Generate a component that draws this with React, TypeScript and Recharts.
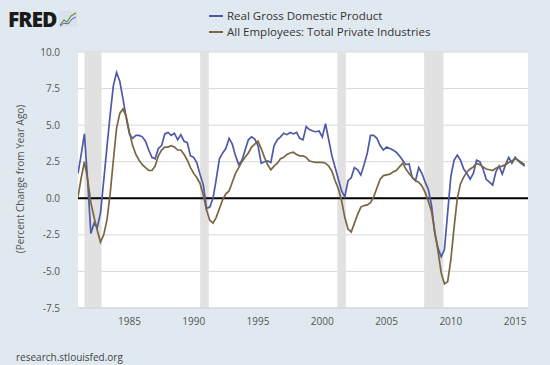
import React from 'react';
import {
  LineChart,
  Line,
  XAxis,
  YAxis,
  CartesianGrid,
  ReferenceArea,
  ReferenceLine,
} from 'recharts';

// quarterly, percent change from year ago, starting 1981 Q1
const startYear = 1981;

const gdp = [
  1.7, 3.0, 4.4, 1.2,
  -2.4, -1.7, -2.0, -1.0,
  1.2, 3.5, 5.7, 7.7,
  8.6, 8.0, 6.8, 5.5,
  4.4, 4.1, 4.3, 4.3,
  4.2, 3.9, 3.3, 2.8,
  2.7, 3.4, 3.6, 4.4,
  4.5, 4.3, 4.45, 4.0,
  4.35, 3.9, 3.8, 2.9,
  2.8, 2.4, 1.6, 0.9,
  -0.7, -0.6, 0.0, 1.3,
  2.7, 3.1, 3.4, 4.1,
  3.7, 2.9, 2.3, 2.6,
  3.3, 4.0, 4.2, 4.05,
  3.6, 2.4, 2.5, 2.55,
  2.45, 3.6, 4.0, 4.2,
  4.45, 4.35, 4.5, 4.4,
  4.5, 4.1, 4.0, 4.9,
  4.7, 4.6, 4.55, 4.6,
  4.2, 5.1, 4.0, 2.9,
  2.1, 1.3, 0.5, 0.1,
  1.2, 1.4, 2.1, 1.95,
  1.6, 2.3, 3.1, 4.3,
  4.3, 4.1, 3.6, 3.3,
  3.5, 3.4, 3.3, 3.15,
  2.9, 2.6, 2.3, 2.35,
  1.4, 1.2, 2.1, 1.7,
  1.1, 0.6, -0.5, -2.4,
  -3.4, -4.0, -3.5, -1.0,
  1.5, 2.6, 2.95, 2.6,
  2.0, 1.7, 1.3, 1.7,
  2.6, 2.5, 2.0, 1.3,
  1.1, 0.9, 1.8, 2.2,
  1.65, 2.3, 2.8, 2.4,
  2.8, 2.55, 2.35, 2.2,
];

const employment = [
  0.1, 1.4, 2.5, 1.3,
  -0.3, -1.3, -2.2, -3.0,
  -2.5, -1.5, 0.3, 2.6,
  4.8, 5.8, 6.1, 5.6,
  4.5, 3.6, 3.0, 2.6,
  2.3, 2.1, 1.9, 1.9,
  2.2, 2.9, 3.3, 3.5,
  3.5, 3.6, 3.5, 3.3,
  3.3, 3.0, 2.6, 2.1,
  1.7, 1.4, 1.0, 0.2,
  -0.8, -1.5, -1.7, -1.3,
  -0.7, -0.1, 0.3, 0.5,
  1.1, 1.7, 2.1, 2.5,
  2.8, 3.1, 3.5, 3.7,
  3.9, 3.4, 2.8, 2.3,
  1.95, 2.2, 2.4, 2.7,
  2.8, 3.0, 3.1, 3.15,
  3.0, 2.9, 2.9, 2.8,
  2.55, 2.5, 2.45, 2.45,
  2.45, 2.4, 2.2, 1.85,
  1.2, 0.65, -0.15, -1.3,
  -2.1, -2.3, -1.7, -1.1,
  -0.6, -0.5, -0.45, -0.3,
  0.1, 0.7, 1.3, 1.55,
  1.6, 1.65, 1.8, 1.9,
  2.15, 2.4, 2.0, 1.7,
  1.45, 1.2, 1.1, 0.85,
  0.4, -0.2, -0.9, -2.3,
  -3.6, -5.1, -5.85, -5.7,
  -4.2, -2.0, 0.0, 1.0,
  1.45, 1.8, 2.0, 2.15,
  2.4, 2.3, 2.15, 2.0,
  1.95, 1.9, 2.05, 2.15,
  2.2, 2.3, 2.45, 2.55,
  2.7, 2.6, 2.45, 2.3,
];

// NBER recessions (peak month -> trough month, as decimal years)
const recessions = [
  [1981.5, 1982.83],
  [1990.5, 1991.17],
  [2001.17, 2001.83],
  [2007.92, 2009.42],
];

const xTicks = [1985, 1990, 1995, 2000, 2005, 2010, 2015];
const yTicks = [-7.5, -5, -2.5, 0, 2.5, 5, 7.5, 10];

const seriesNames = ['Real Gross Domestic Product', 'All Employees: Total Private Industries'];
const colors = ['#4e5aa7', '#7a6542'];

const data = gdp.map((v, i) => ({
  t: startYear + i / 4,
  gdp: v,
  emp: employment[i],
}));

const font = '"Open Sans", "DejaVu Sans", sans-serif';

const FredLogo = () => (
  <div style={{ position: 'absolute', left: 8, top: 5, display: 'flex', alignItems: 'center' }}>
    <span style={{ fontFamily: font, fontWeight: 800, fontSize: 21, color: '#1a1a1a', letterSpacing: -1 }}>
      FRED
    </span>
    <svg width={18} height={16} style={{ marginLeft: 3 }}>
      <rect x={0} y={0} width={18} height={16} fill="#d7e2ea" />
      <polyline points="1,14 5,9 8,11 12,5 17,2" fill="none" stroke="#6d8f3a" strokeWidth={1.2} />
      <polyline points="1,15 5,12 9,13 13,8 17,6" fill="none" stroke="#4e5aa7" strokeWidth={1} />
    </svg>
  </div>
);

const App = () => {
  return (
    <div
      style={{
        position: 'absolute',
        left: 0,
        top: 0,
        width: 550,
        height: 365,
        background: '#e1e9f0',
        fontFamily: font,
        overflow: 'hidden',
      }}
    >
      <FredLogo />

      {/* legend */}
      <div style={{ position: 'absolute', left: 209, top: 8, fontSize: 11.5, color: '#333', lineHeight: '16px' }}>
        {seriesNames.map((name, i) => (
          <div key={name} style={{ display: 'flex', alignItems: 'center', height: 16 }}>
            <span style={{ display: 'inline-block', width: 14, height: 2, background: colors[i], marginRight: 4 }} />
            {name}
          </div>
        ))}
      </div>

      {/* y-axis title */}
      <div
        style={{
          position: 'absolute',
          left: 20,
          top: 179,
          transform: 'translate(-50%, -50%) rotate(-90deg)',
          whiteSpace: 'nowrap',
          fontSize: 10,
          color: '#555',
        }}
      >
        (Percent Change from Year Ago)
      </div>

      <div style={{ position: 'absolute', left: 16, top: 350, fontSize: 10, color: '#444' }}>
        research.stlouisfed.org
      </div>

      <div style={{ position: 'absolute', left: 0, top: 0 }}>
        <LineChart width={550} height={365} data={data} margin={{ top: 52, right: 22, bottom: 27, left: 0 }}>
          <CartesianGrid vertical={false} stroke="#d9d9d9" fill="#ffffff" />
          {recessions.map(([a, b]) => (
            <ReferenceArea key={a} x1={a} x2={b} fill="#e1e1e1" fillOpacity={1} stroke="none" />
          ))}
          <XAxis
            dataKey="t"
            type="number"
            domain={[1981, 2016]}
            ticks={xTicks}
            allowDataOverflow
            height={30}
            tickLine={false}
            tickSize={8}
            axisLine={{ stroke: '#ccd6e0' }}
            tick={{ fontSize: 10, fill: '#555', fontFamily: font }}
          />
          <YAxis
            type="number"
            domain={[-7.5, 10]}
            ticks={yTicks}
            width={78}
            axisLine={false}
            tickLine={false}
            tickSize={0}
            tickMargin={18}
            tickFormatter={(v: number) => v.toFixed(1)}
            tick={{ fontSize: 10, fill: '#555', fontFamily: font }}
          />
          <ReferenceLine y={0} stroke="#000" strokeWidth={2} />
          <Line
            type="linear"
            dataKey="gdp"
            stroke={colors[0]}
            strokeWidth={1.7}
            dot={false}
            isAnimationActive={false}
          />
          <Line
            type="linear"
            dataKey="emp"
            stroke={colors[1]}
            strokeWidth={1.7}
            dot={false}
            isAnimationActive={false}
          />
        </LineChart>
      </div>
    </div>
  );
};

export default App;
